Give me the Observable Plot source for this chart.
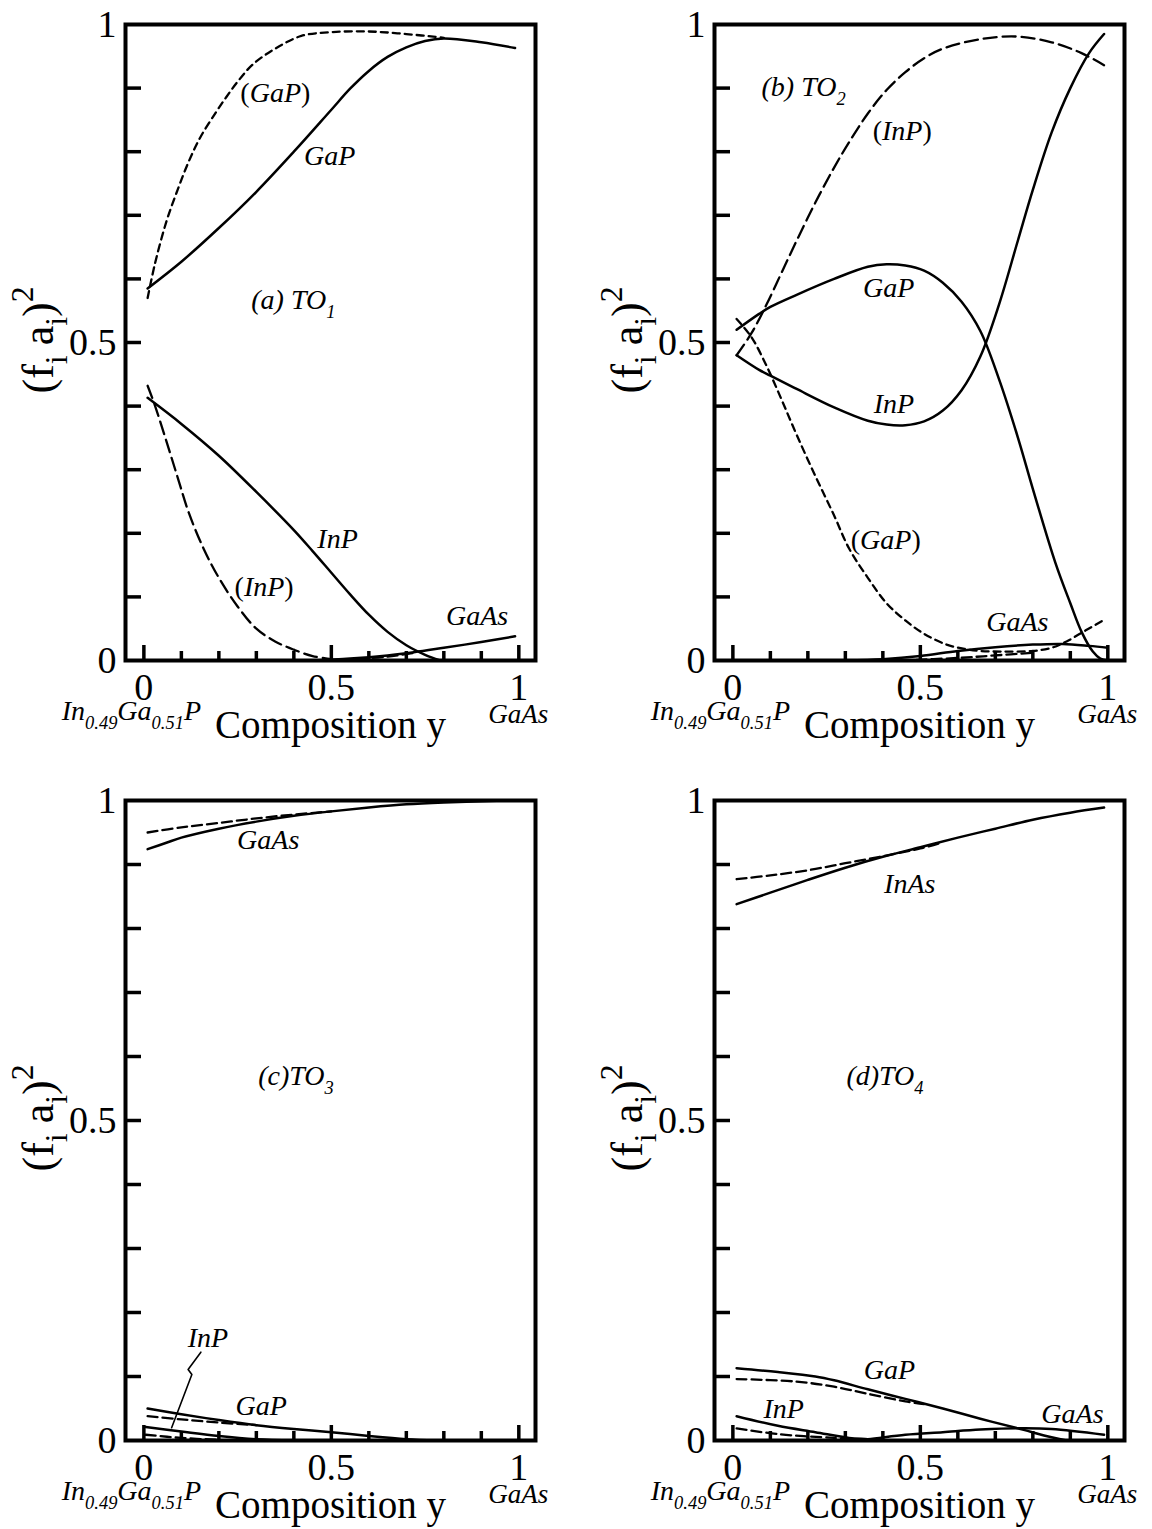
<!DOCTYPE html>
<html><head><meta charset="utf-8">
<script src="https://cdn.jsdelivr.net/npm/d3@7"></script>
<script src="https://cdn.jsdelivr.net/npm/@observablehq/plot@0.6"></script>
<style>
body{margin:0;background:#fff;}
#wrap{position:relative;width:1152px;height:1529px;background:#fff;overflow:hidden;}
#wrap > .pane{position:absolute;}
</style></head><body><div id="wrap"></div>
<script>
// ================= DATA =================
// Panel (a) TO1  (solid = calculated, dashed = bracketed labels)
const a_GaP_x  = [0.01, 0.1, 0.2, 0.3, 0.4, 0.5, 0.55, 0.6, 0.65, 0.7, 0.75, 0.8, 0.9, 0.99];
const a_GaP_y  = [0.585, 0.627, 0.68, 0.737, 0.8, 0.866, 0.899, 0.927, 0.949, 0.964, 0.974, 0.978, 0.972, 0.963];
const a_GaPd_x = [0.01, 0.03, 0.06, 0.09, 0.12, 0.15, 0.19, 0.22, 0.25, 0.29, 0.35, 0.42, 0.5, 0.6, 0.7, 0.8];
const a_GaPd_y = [0.57, 0.625, 0.69, 0.74, 0.785, 0.822, 0.86, 0.886, 0.91, 0.937, 0.962, 0.982, 0.988, 0.989, 0.985, 0.979];
const a_InP_x  = [0.01, 0.1, 0.2, 0.3, 0.4, 0.45, 0.5, 0.55, 0.6, 0.65, 0.7, 0.75, 0.79];
const a_InP_y  = [0.413, 0.372, 0.322, 0.265, 0.205, 0.172, 0.138, 0.104, 0.072, 0.045, 0.024, 0.009, 0.0];
const a_InPd_x = [0.01, 0.03, 0.06, 0.09, 0.12, 0.16, 0.2, 0.25, 0.3, 0.35, 0.4, 0.45, 0.5];
const a_InPd_y = [0.432, 0.4, 0.345, 0.288, 0.232, 0.175, 0.13, 0.085, 0.05, 0.03, 0.017, 0.007, 0.002];
const a_GaAs_x  = [0.45, 0.55, 0.65, 0.72, 0.8, 0.9, 0.99];
const a_GaAs_y  = [0.0, 0.003, 0.008, 0.013, 0.02, 0.029, 0.038];
const a_GaAsd_x = [0.45, 0.55, 0.65, 0.72];
const a_GaAsd_y = [0.0, 0.002, 0.006, 0.012];

// Panel (b) TO2
const b_InPd_x = [0.01, 0.05, 0.09, 0.13, 0.17, 0.22, 0.27, 0.31, 0.36, 0.41, 0.46, 0.51, 0.56, 0.66, 0.76, 0.85, 0.93, 0.99];
const b_InPd_y = [0.48, 0.515, 0.56, 0.61, 0.66, 0.72, 0.775, 0.815, 0.86, 0.897, 0.925, 0.947, 0.962, 0.977, 0.981, 0.972, 0.955, 0.936];
const b_GaP_x  = [0.01, 0.07, 0.1, 0.17, 0.27, 0.36, 0.41, 0.46, 0.51, 0.56, 0.61, 0.66, 0.71, 0.76, 0.8, 0.86, 0.9, 0.93, 0.96, 0.98, 1.0];
const b_GaP_y  = [0.52, 0.545, 0.556, 0.575, 0.6, 0.619, 0.623, 0.621, 0.613, 0.594, 0.564, 0.518, 0.442, 0.351, 0.27, 0.154, 0.09, 0.045, 0.014, 0.003, 0.0];
const b_InP_x  = [0.01, 0.07, 0.1, 0.17, 0.27, 0.36, 0.41, 0.46, 0.51, 0.56, 0.61, 0.66, 0.71, 0.76, 0.8, 0.85, 0.9, 0.95, 0.99];
const b_InP_y  = [0.48, 0.457, 0.448, 0.427, 0.398, 0.377, 0.371, 0.37, 0.376, 0.393, 0.425, 0.478, 0.56, 0.66, 0.74, 0.83, 0.9, 0.955, 0.985];
const b_GaPd_x = [0.01, 0.05, 0.09, 0.13, 0.17, 0.22, 0.27, 0.31, 0.36, 0.41, 0.46, 0.51, 0.57, 0.62, 0.66, 0.72, 0.8, 0.85, 0.89, 0.94, 0.99];
const b_GaPd_y = [0.537, 0.508, 0.463, 0.41, 0.355, 0.29, 0.228, 0.176, 0.13, 0.09, 0.063, 0.042, 0.025, 0.018, 0.015, 0.014, 0.015, 0.02, 0.03, 0.047, 0.064];
const b_GaAs_x  = [0.3, 0.4, 0.5, 0.6, 0.7, 0.8, 0.88, 0.95, 1.0];
const b_GaAs_y  = [0.0, 0.002, 0.007, 0.015, 0.021, 0.025, 0.026, 0.023, 0.02];
const b_GaAsd_x = [0.45, 0.6, 0.7, 0.8];
const b_GaAsd_y = [0.0, 0.004, 0.008, 0.012];

// Panel (c) TO3
const c_GaAs_x  = [0.01, 0.06, 0.1, 0.2, 0.3, 0.4, 0.5, 0.6, 0.7, 0.8, 0.9, 1.0];
const c_GaAs_y  = [0.924, 0.934, 0.942, 0.956, 0.967, 0.976, 0.983, 0.989, 0.994, 0.997, 0.999, 1.0];
const c_GaAsd_x = [0.01, 0.1, 0.2, 0.3, 0.4, 0.5];
const c_GaAsd_y = [0.95, 0.958, 0.965, 0.972, 0.978, 0.983];
const c_GaP_x   = [0.01, 0.1, 0.2, 0.3, 0.4, 0.5, 0.6, 0.7, 0.78];
const c_GaP_y   = [0.05, 0.041, 0.032, 0.024, 0.018, 0.013, 0.007, 0.002, 0.0];
const c_GaPd_x  = [0.01, 0.1, 0.2, 0.3];
const c_GaPd_y  = [0.038, 0.033, 0.028, 0.024];
const c_InP_x   = [0.005, 0.1, 0.2, 0.3, 0.4];
const c_InP_y   = [0.021, 0.014, 0.007, 0.002, 0.0];
const c_InPd_x  = [0.005, 0.1, 0.2];
const c_InPd_y  = [0.009, 0.004, 0.001];
const c_lead_x  = [0.074, 0.128, 0.118, 0.152];
const c_lead_y  = [0.02, 0.103, 0.111, 0.138];

// Panel (d) TO4
const d_InAs_x  = [0.01, 0.1, 0.2, 0.3, 0.4, 0.5, 0.6, 0.7, 0.8, 0.9, 0.99];
const d_InAs_y  = [0.838, 0.856, 0.876, 0.895, 0.912, 0.927, 0.942, 0.956, 0.97, 0.981, 0.989];
const d_InAsd_x = [0.01, 0.1, 0.2, 0.3, 0.4, 0.5, 0.55];
const d_InAsd_y = [0.877, 0.883, 0.891, 0.902, 0.913, 0.925, 0.933];
const d_GaP_x   = [0.01, 0.12, 0.22, 0.27, 0.36, 0.46, 0.56, 0.66, 0.76, 0.85, 0.89];
const d_GaP_y   = [0.113, 0.107, 0.1, 0.094, 0.08, 0.065, 0.05, 0.034, 0.019, 0.005, 0.0];
const d_GaPd_x  = [0.01, 0.17, 0.27, 0.36, 0.46, 0.51];
const d_GaPd_y  = [0.096, 0.092, 0.084, 0.073, 0.061, 0.057];
const d_InP_x   = [0.01, 0.12, 0.22, 0.31, 0.36, 0.4];
const d_InP_y   = [0.038, 0.023, 0.013, 0.004, 0.002, 0.0];
const d_InPd_x  = [0.01, 0.12, 0.27, 0.36];
const d_InPd_y  = [0.019, 0.01, 0.004, 0.001];
const d_GaAs_x  = [0.31, 0.36, 0.46, 0.56, 0.66, 0.76, 0.85, 0.99];
const d_GaAs_y  = [0.0, 0.002, 0.009, 0.013, 0.017, 0.019, 0.018, 0.009];

// Ticks and tick labels
const xTickLabels = [0, 0.5, 1];
const yTickLabels = [0, 0.5, 1];
const xMajorTicks = [0, 0.5, 1];
const xMinorTicks = [0.1, 0.2, 0.3, 0.4, 0.6, 0.7, 0.8, 0.9];
const yMinorTicks = [0.1, 0.2, 0.3, 0.4, 0.5, 0.6, 0.7, 0.8, 0.9];

// Texts
const xAxisTitle = "Composition y";
const leftEndLabel = [{t:"In",i:1},{t:"0.49",i:1,sub:1},{t:"Ga",i:1},{t:"0.51",i:1,sub:1},{t:"P",i:1}];
const rightEndLabel = [{t:"GaAs",i:1}];
const yAxisTitle = [{t:"(f"},{t:"i",sub:1},{t:"a",dx:10},{t:"i",sub:1},{t:")"},{t:"2",sup:1}];

// ================= STYLE / LAYOUT =================
const SERIF = "'Liberation Serif', 'Times New Roman', Times, serif";
const DASH_SHORT = "7,5", DASH_LONG = "13,6", DASH_MED = "10,5";
const X_DOMAIN = [-0.049, 1.0445];

function pts(xs, ys) { return xs.map((x, i) => ({x, y: ys[i]})); }
function it(t) { return [{t, i: 1}]; }
function paren(t) { return [{t: "("}, {t, i: 1}, {t: ")"}]; }

const panels = [
  {left: 0, top: 0, height: 765, mB: 105,
   lines: [
     {x: a_GaP_x, y: a_GaP_y}, {x: a_GaPd_x, y: a_GaPd_y, dash: DASH_SHORT},
     {x: a_InP_x, y: a_InP_y}, {x: a_InPd_x, y: a_InPd_y, dash: DASH_LONG},
     {x: a_GaAs_x, y: a_GaAs_y}, {x: a_GaAsd_x, y: a_GaAsd_y, dash: DASH_MED}],
   labels: [
     {segs: paren("GaP"), x: 0.352, y: 0.893}, {segs: it("GaP"), x: 0.497, y: 0.794},
     {segs: [{t: "(a) TO", i: 1}, {t: "1", i: 1, sub: 1}], x: 0.40, y: 0.567},
     {segs: it("InP"), x: 0.518, y: 0.192}, {segs: paren("InP"), x: 0.322, y: 0.117},
     {segs: it("GaAs"), x: 0.89, y: 0.071}]},
  {left: 589, top: 0, height: 765, mB: 105,
   lines: [
     {x: b_InPd_x, y: b_InPd_y, dash: DASH_LONG}, {x: b_GaP_x, y: b_GaP_y},
     {x: b_InP_x, y: b_InP_y}, {x: b_GaPd_x, y: b_GaPd_y, dash: DASH_SHORT},
     {x: b_GaAs_x, y: b_GaAs_y}, {x: b_GaAsd_x, y: b_GaAsd_y, dash: DASH_MED}],
   labels: [
     {segs: [{t: "(b) TO", i: 1}, {t: "2", i: 1, sub: 1}], x: 0.19, y: 0.902},
     {segs: paren("InP"), x: 0.453, y: 0.834}, {segs: it("GaP"), x: 0.417, y: 0.587},
     {segs: it("InP"), x: 0.431, y: 0.404}, {segs: paren("GaP"), x: 0.409, y: 0.191},
     {segs: it("GaAs"), x: 0.76, y: 0.062}]},
  {left: 0, top: 776, height: 753, mB: 89,
   lines: [
     {x: c_GaAs_x, y: c_GaAs_y}, {x: c_GaAsd_x, y: c_GaAsd_y, dash: DASH_MED},
     {x: c_GaP_x, y: c_GaP_y}, {x: c_GaPd_x, y: c_GaPd_y, dash: DASH_MED},
     {x: c_InP_x, y: c_InP_y}, {x: c_InPd_x, y: c_InPd_y, dash: DASH_MED},
     {x: c_lead_x, y: c_lead_y, thin: true}],
   labels: [
     {segs: it("GaAs"), x: 0.333, y: 0.939},
     {segs: [{t: "(c)TO", i: 1}, {t: "3", i: 1, sub: 1}], x: 0.407, y: 0.571},
     {segs: it("InP"), x: 0.172, y: 0.161}, {segs: it("GaP"), x: 0.314, y: 0.054}]},
  {left: 589, top: 776, height: 753, mB: 89,
   lines: [
     {x: d_InAs_x, y: d_InAs_y}, {x: d_InAsd_x, y: d_InAsd_y, dash: DASH_MED},
     {x: d_GaP_x, y: d_GaP_y}, {x: d_GaPd_x, y: d_GaPd_y, dash: DASH_MED},
     {x: d_InP_x, y: d_InP_y}, {x: d_InPd_x, y: d_InPd_y, dash: DASH_MED},
     {x: d_GaAs_x, y: d_GaAs_y}],
   labels: [
     {segs: it("InAs"), x: 0.473, y: 0.87},
     {segs: [{t: "(d)TO", i: 1}, {t: "4", i: 1, sub: 1}], x: 0.407, y: 0.571},
     {segs: it("GaP"), x: 0.419, y: 0.111}, {segs: it("InP"), x: 0.137, y: 0.05},
     {segs: it("GaAs"), x: 0.907, y: 0.042}]}
];

function rich(svg, x, y, segs, {size = 28, anchor = "middle", rotate = 0, subSize = 0.66} = {}) {
  const t = d3.select(svg).append("text")
    .attr("font-family", SERIF).attr("font-size", size)
    .attr("text-anchor", anchor).attr("fill", "black")
    .attr("transform", `translate(${x},${y})` + (rotate ? ` rotate(${rotate})` : ""));
  let shift = 0;
  for (const s of segs) {
    const target = s.sub ? 0.32 * size : s.sup ? -0.45 * size : 0;
    const ts = t.append("tspan").text(s.t).attr("dy", target - shift);
    if (s.dx) ts.attr("dx", s.dx);
    shift = target;
    if (s.sub || s.sup) ts.attr("font-size", size * subSize);
    if (s.i) ts.attr("font-style", "italic");
  }
  return t;
}

const fmt = d => String(d);
const wrap = document.getElementById("wrap");
for (const p of panels) {
  const W = 563, H = p.height, mT = 24, mB = p.mB, mL = 125, mR = 28;
  const innerH = H - mT - mB, innerW = W - mL - mR;
  const marks = [];
  for (const s of p.lines) {
    marks.push(Plot.line(pts(s.x, s.y), {
      x: "x", y: "y", curve: s.thin ? "linear" : "catmull-rom",
      stroke: "black", strokeWidth: s.thin ? 1.6 : (s.dash ? 2.3 : 2.5),
      strokeDasharray: s.dash || null, fill: "none"
    }));
  }
  marks.push(Plot.tickX(xMinorTicks, {x: d => d, stroke: "black", strokeWidth: 3.5, insetTop: innerH - 9}));
  marks.push(Plot.tickX(xMajorTicks, {x: d => d, stroke: "black", strokeWidth: 3.5, insetTop: innerH - 15}));
  marks.push(Plot.tickY(yMinorTicks, {y: d => d, stroke: "black", strokeWidth: 3.5, insetRight: innerW - 16}));
  marks.push(Plot.frame({stroke: "black", strokeWidth: 4}));
  marks.push(Plot.axisX(xTickLabels, {tickSize: 0, tickPadding: 13, fontSize: 38, fontFamily: SERIF, label: null, tickFormat: fmt}));
  marks.push(Plot.axisY(yTickLabels, {tickSize: 0, tickPadding: 9, fontSize: 38, fontFamily: SERIF, label: null, tickFormat: fmt}));
  marks.push(Plot.text([xAxisTitle], {frameAnchor: "bottom", dy: 77, lineAnchor: "bottom", fontSize: 39, fontFamily: SERIF, fill: "black"}));

  const plot = Plot.plot({
    width: W, height: H,
    marginTop: mT, marginBottom: mB, marginLeft: mL, marginRight: mR,
    x: {domain: X_DOMAIN},
    y: {domain: [0, 1]},
    style: {background: "white", color: "black", overflow: "visible"},
    marks
  });
  const xs = plot.scale("x"), ys = plot.scale("y");
  const X = v => xs.apply(v), Y = v => ys.apply(v);

  for (const l of p.labels) rich(plot, X(l.x), Y(l.y) + 10, l.segs, {size: 28});
  rich(plot, X(0) - 12, Y(0) + 60, leftEndLabel, {size: 28});
  rich(plot, X(1), Y(0) + 63, rightEndLabel, {size: 27});
  rich(plot, mL - 72, Y(0.5) - 2, yAxisTitle, {size: 44, rotate: -90, subSize: 0.72});

  const div = document.createElement("div");
  div.className = "pane";
  div.style.left = p.left + "px";
  div.style.top = p.top + "px";
  div.appendChild(plot);
  wrap.appendChild(div);
}
</script>
</body></html>
